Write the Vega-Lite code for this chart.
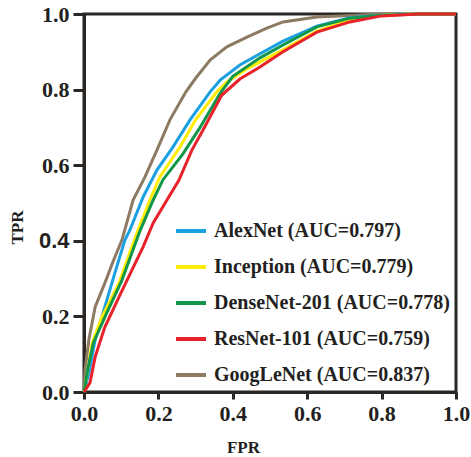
{
  "$schema": "https://vega.github.io/schema/vega-lite/v6.json",
  "width": 372,
  "height": 378,
  "autosize": {"type": "none"},
  "padding": {"left": 84, "top": 14, "right": 15, "bottom": 65},
  "background": "white",
  "config": {"view": {"stroke": "#2a2623", "strokeWidth": 3}, "font": "'Liberation Serif', 'Times New Roman', Times, serif"},
  "data": {"values": [
    {"model": "GoogLeNet (AUC=0.837)", "fpr": 0, "tpr": 0},
    {"model": "GoogLeNet (AUC=0.837)", "fpr": 0.003, "tpr": 0.06},
    {"model": "GoogLeNet (AUC=0.837)", "fpr": 0.013, "tpr": 0.138},
    {"model": "GoogLeNet (AUC=0.837)", "fpr": 0.03, "tpr": 0.225},
    {"model": "GoogLeNet (AUC=0.837)", "fpr": 0.056, "tpr": 0.288},
    {"model": "GoogLeNet (AUC=0.837)", "fpr": 0.08, "tpr": 0.35},
    {"model": "GoogLeNet (AUC=0.837)", "fpr": 0.102, "tpr": 0.402},
    {"model": "GoogLeNet (AUC=0.837)", "fpr": 0.132, "tpr": 0.508},
    {"model": "GoogLeNet (AUC=0.837)", "fpr": 0.164, "tpr": 0.569},
    {"model": "GoogLeNet (AUC=0.837)", "fpr": 0.196, "tpr": 0.64},
    {"model": "GoogLeNet (AUC=0.837)", "fpr": 0.231, "tpr": 0.72},
    {"model": "GoogLeNet (AUC=0.837)", "fpr": 0.274, "tpr": 0.794},
    {"model": "GoogLeNet (AUC=0.837)", "fpr": 0.3, "tpr": 0.83},
    {"model": "GoogLeNet (AUC=0.837)", "fpr": 0.339, "tpr": 0.878},
    {"model": "GoogLeNet (AUC=0.837)", "fpr": 0.384, "tpr": 0.913},
    {"model": "GoogLeNet (AUC=0.837)", "fpr": 0.438, "tpr": 0.939},
    {"model": "GoogLeNet (AUC=0.837)", "fpr": 0.49, "tpr": 0.962},
    {"model": "GoogLeNet (AUC=0.837)", "fpr": 0.535, "tpr": 0.979},
    {"model": "GoogLeNet (AUC=0.837)", "fpr": 0.626, "tpr": 0.992},
    {"model": "GoogLeNet (AUC=0.837)", "fpr": 0.715, "tpr": 0.996},
    {"model": "GoogLeNet (AUC=0.837)", "fpr": 0.8, "tpr": 1},
    {"model": "GoogLeNet (AUC=0.837)", "fpr": 1, "tpr": 1},
    {"model": "AlexNet (AUC=0.797)", "fpr": 0, "tpr": 0},
    {"model": "AlexNet (AUC=0.797)", "fpr": 0.013, "tpr": 0.05},
    {"model": "AlexNet (AUC=0.797)", "fpr": 0.03, "tpr": 0.138},
    {"model": "AlexNet (AUC=0.797)", "fpr": 0.056, "tpr": 0.225},
    {"model": "AlexNet (AUC=0.797)", "fpr": 0.083, "tpr": 0.315},
    {"model": "AlexNet (AUC=0.797)", "fpr": 0.11, "tpr": 0.402},
    {"model": "AlexNet (AUC=0.797)", "fpr": 0.124, "tpr": 0.43},
    {"model": "AlexNet (AUC=0.797)", "fpr": 0.159, "tpr": 0.516},
    {"model": "AlexNet (AUC=0.797)", "fpr": 0.196, "tpr": 0.587},
    {"model": "AlexNet (AUC=0.797)", "fpr": 0.239, "tpr": 0.648},
    {"model": "AlexNet (AUC=0.797)", "fpr": 0.285, "tpr": 0.72},
    {"model": "AlexNet (AUC=0.797)", "fpr": 0.339, "tpr": 0.794},
    {"model": "AlexNet (AUC=0.797)", "fpr": 0.366, "tpr": 0.825},
    {"model": "AlexNet (AUC=0.797)", "fpr": 0.419, "tpr": 0.865},
    {"model": "AlexNet (AUC=0.797)", "fpr": 0.473, "tpr": 0.895},
    {"model": "AlexNet (AUC=0.797)", "fpr": 0.535, "tpr": 0.928},
    {"model": "AlexNet (AUC=0.797)", "fpr": 0.626, "tpr": 0.968},
    {"model": "AlexNet (AUC=0.797)", "fpr": 0.715, "tpr": 0.99},
    {"model": "AlexNet (AUC=0.797)", "fpr": 0.8, "tpr": 0.997},
    {"model": "AlexNet (AUC=0.797)", "fpr": 0.85, "tpr": 1},
    {"model": "AlexNet (AUC=0.797)", "fpr": 1, "tpr": 1},
    {"model": "Inception (AUC=0.779)", "fpr": 0, "tpr": 0},
    {"model": "Inception (AUC=0.779)", "fpr": 0.01, "tpr": 0.06},
    {"model": "Inception (AUC=0.779)", "fpr": 0.022, "tpr": 0.13},
    {"model": "Inception (AUC=0.779)", "fpr": 0.048, "tpr": 0.198},
    {"model": "Inception (AUC=0.779)", "fpr": 0.094, "tpr": 0.288},
    {"model": "Inception (AUC=0.779)", "fpr": 0.129, "tpr": 0.385},
    {"model": "Inception (AUC=0.779)", "fpr": 0.142, "tpr": 0.42},
    {"model": "Inception (AUC=0.779)", "fpr": 0.177, "tpr": 0.508},
    {"model": "Inception (AUC=0.779)", "fpr": 0.204, "tpr": 0.569},
    {"model": "Inception (AUC=0.779)", "fpr": 0.258, "tpr": 0.648},
    {"model": "Inception (AUC=0.779)", "fpr": 0.3, "tpr": 0.72},
    {"model": "Inception (AUC=0.779)", "fpr": 0.357, "tpr": 0.794},
    {"model": "Inception (AUC=0.779)", "fpr": 0.384, "tpr": 0.82},
    {"model": "Inception (AUC=0.779)", "fpr": 0.438, "tpr": 0.855},
    {"model": "Inception (AUC=0.779)", "fpr": 0.49, "tpr": 0.882},
    {"model": "Inception (AUC=0.779)", "fpr": 0.535, "tpr": 0.905},
    {"model": "Inception (AUC=0.779)", "fpr": 0.626, "tpr": 0.955},
    {"model": "Inception (AUC=0.779)", "fpr": 0.715, "tpr": 0.984},
    {"model": "Inception (AUC=0.779)", "fpr": 0.8, "tpr": 0.997},
    {"model": "Inception (AUC=0.779)", "fpr": 0.876, "tpr": 1},
    {"model": "Inception (AUC=0.779)", "fpr": 1, "tpr": 1},
    {"model": "DenseNet-201 (AUC=0.778)", "fpr": 0, "tpr": 0},
    {"model": "DenseNet-201 (AUC=0.778)", "fpr": 0.01, "tpr": 0.06},
    {"model": "DenseNet-201 (AUC=0.778)", "fpr": 0.025, "tpr": 0.13},
    {"model": "DenseNet-201 (AUC=0.778)", "fpr": 0.056, "tpr": 0.198},
    {"model": "DenseNet-201 (AUC=0.778)", "fpr": 0.102, "tpr": 0.296},
    {"model": "DenseNet-201 (AUC=0.778)", "fpr": 0.137, "tpr": 0.39},
    {"model": "DenseNet-201 (AUC=0.778)", "fpr": 0.15, "tpr": 0.425},
    {"model": "DenseNet-201 (AUC=0.778)", "fpr": 0.186, "tpr": 0.508},
    {"model": "DenseNet-201 (AUC=0.778)", "fpr": 0.212, "tpr": 0.561},
    {"model": "DenseNet-201 (AUC=0.778)", "fpr": 0.266, "tpr": 0.63},
    {"model": "DenseNet-201 (AUC=0.778)", "fpr": 0.312, "tpr": 0.7},
    {"model": "DenseNet-201 (AUC=0.778)", "fpr": 0.366, "tpr": 0.79},
    {"model": "DenseNet-201 (AUC=0.778)", "fpr": 0.4, "tpr": 0.835},
    {"model": "DenseNet-201 (AUC=0.778)", "fpr": 0.473, "tpr": 0.884},
    {"model": "DenseNet-201 (AUC=0.778)", "fpr": 0.535, "tpr": 0.918},
    {"model": "DenseNet-201 (AUC=0.778)", "fpr": 0.626, "tpr": 0.966},
    {"model": "DenseNet-201 (AUC=0.778)", "fpr": 0.715, "tpr": 0.989},
    {"model": "DenseNet-201 (AUC=0.778)", "fpr": 0.8, "tpr": 0.997},
    {"model": "DenseNet-201 (AUC=0.778)", "fpr": 0.9, "tpr": 1},
    {"model": "DenseNet-201 (AUC=0.778)", "fpr": 1, "tpr": 1},
    {"model": "ResNet-101 (AUC=0.759)", "fpr": 0, "tpr": 0},
    {"model": "ResNet-101 (AUC=0.759)", "fpr": 0.016, "tpr": 0.024},
    {"model": "ResNet-101 (AUC=0.759)", "fpr": 0.03, "tpr": 0.093},
    {"model": "ResNet-101 (AUC=0.759)", "fpr": 0.056, "tpr": 0.172},
    {"model": "ResNet-101 (AUC=0.759)", "fpr": 0.094, "tpr": 0.251},
    {"model": "ResNet-101 (AUC=0.759)", "fpr": 0.129, "tpr": 0.323},
    {"model": "ResNet-101 (AUC=0.759)", "fpr": 0.159, "tpr": 0.384},
    {"model": "ResNet-101 (AUC=0.759)", "fpr": 0.186, "tpr": 0.447},
    {"model": "ResNet-101 (AUC=0.759)", "fpr": 0.223, "tpr": 0.508},
    {"model": "ResNet-101 (AUC=0.759)", "fpr": 0.255, "tpr": 0.56},
    {"model": "ResNet-101 (AUC=0.759)", "fpr": 0.29, "tpr": 0.64},
    {"model": "ResNet-101 (AUC=0.759)", "fpr": 0.32, "tpr": 0.693},
    {"model": "ResNet-101 (AUC=0.759)", "fpr": 0.37, "tpr": 0.785},
    {"model": "ResNet-101 (AUC=0.759)", "fpr": 0.419, "tpr": 0.828},
    {"model": "ResNet-101 (AUC=0.759)", "fpr": 0.473, "tpr": 0.86},
    {"model": "ResNet-101 (AUC=0.759)", "fpr": 0.535, "tpr": 0.9},
    {"model": "ResNet-101 (AUC=0.759)", "fpr": 0.626, "tpr": 0.952},
    {"model": "ResNet-101 (AUC=0.759)", "fpr": 0.715, "tpr": 0.979},
    {"model": "ResNet-101 (AUC=0.759)", "fpr": 0.8, "tpr": 0.995},
    {"model": "ResNet-101 (AUC=0.759)", "fpr": 0.9, "tpr": 1},
    {"model": "ResNet-101 (AUC=0.759)", "fpr": 1, "tpr": 1}
  ]},
  "mark": {"type": "line", "strokeWidth": 3},
  "encoding": {
    "x": {
      "field": "fpr", "type": "quantitative",
      "scale": {"domain": [0, 1], "nice": false},
      "axis": {
        "title": "FPR", "titleFont": "'Liberation Serif', 'Times New Roman', Times, serif", "titleFontSize": 17, "titleFontWeight": "bold",
        "titleColor": "#231f20", "titleX": 159, "titleY": 60, "titleBaseline": "alphabetic", "titleAlign": "center",
        "values": [0, 0.2, 0.4, 0.6, 0.8, 1], "format": ".1f", "labelFlush": false,
        "labelFont": "'Liberation Serif', 'Times New Roman', Times, serif", "labelFontSize": 22, "labelFontWeight": "bold", "labelColor": "#231f20",
        "labelPadding": 4, "tickSize": 7, "tickWidth": 3, "tickColor": "#2a2623",
        "domainWidth": 3, "domainColor": "#2a2623", "grid": false
      }
    },
    "y": {
      "field": "tpr", "type": "quantitative",
      "scale": {"domain": [0, 1], "nice": false},
      "axis": {
        "title": "TPR", "titleFont": "'Liberation Serif', 'Times New Roman', Times, serif", "titleFontSize": 17, "titleFontWeight": "bold",
        "titleColor": "#231f20", "titleX": -62, "titleY": 213, "titleBaseline": "alphabetic", "titleAlign": "center", "titleAngle": 270,
        "values": [0, 0.2, 0.4, 0.6, 0.8, 1], "format": ".1f", "labelFlush": false,
        "labelFont": {"condition": {"test": "datum.value === 0.4", "value": "'Liberation Sans', Arial, sans-serif"}, "value": "'Liberation Serif', 'Times New Roman', Times, serif"},
        "labelFontSize": 22, "labelFontWeight": "bold", "labelColor": "#231f20",
        "labelPadding": 4, "tickSize": 11, "tickWidth": 3, "tickColor": "#2a2623",
        "domainWidth": 3, "domainColor": "#2a2623", "grid": false
      }
    },
    "color": {
      "field": "model", "type": "nominal",
      "scale": {
        "domain": ["AlexNet (AUC=0.797)", "Inception (AUC=0.779)", "DenseNet-201 (AUC=0.778)", "ResNet-101 (AUC=0.759)", "GoogLeNet (AUC=0.837)"],
        "range": ["#1aa0e0", "#ffec00", "#11964a", "#e8222a", "#8c7a62"]
      },
      "legend": {
        "orient": "none", "legendX": 90, "legendY": 200, "title": null, "padding": 0,
        "symbolType": "stroke", "symbolSize": 900, "symbolStrokeWidth": 4,
        "labelFont": "'Liberation Serif', 'Times New Roman', Times, serif", "labelFontSize": 20, "labelFontWeight": "bold", "labelColor": "#231f20",
        "labelOffset": 6, "rowPadding": 9, "labelLimit": 400
      }
    }
  }
}
